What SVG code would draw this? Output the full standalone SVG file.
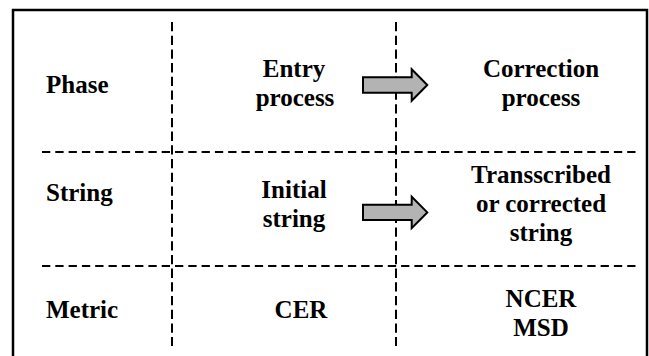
<svg xmlns="http://www.w3.org/2000/svg" width="649" height="356" viewBox="0 0 649 356">
<style>
.frame{fill:none;stroke:#000;stroke-width:2.5}
.vd{stroke:#000;stroke-width:2;stroke-dasharray:9.3 4.4;fill:none}
.hd{stroke:#000;stroke-width:2;stroke-dasharray:8.3 5;fill:none}
.arr{fill:#b3b3b3;stroke:#000;stroke-width:2;stroke-linejoin:miter}
text{font-family:"Liberation Serif","Times New Roman",serif;font-weight:bold;font-size:25px;fill:#000}
.c{text-anchor:middle}
</style>
<rect width="649" height="356" fill="#fff"/>
<path class="frame" d="M13,356 V10 H647 V356"/>
<g id="grid">
<line class="vd" x1="172" y1="22" x2="172" y2="346"/>
<line class="vd" x1="396" y1="22" x2="396" y2="346"/>
<line class="hd" x1="42" y1="152" x2="638" y2="152"/>
<line class="hd" x1="42" y1="266" x2="638" y2="266"/>
</g>
<g id="connectors">
<path class="arr" d="M363,77.3 H411.7 V69.3 L427.3,85 L411.7,100.7 V92.7 H363 Z"/>
<path class="arr" d="M363,204.7 H411.7 V196.7 L427.3,212.4 L411.7,228.1 V220.1 H363 Z"/>
</g>
<g id="row-phase">
<text x="46" y="93">Phase</text>
<text class="c" x="294" y="77">Entry</text>
<text class="c" x="295" y="106">process</text>
<text class="c" x="541" y="77">Correction</text>
<text class="c" x="541" y="106">process</text>
</g>
<g id="row-string">
<text x="46" y="201">String</text>
<text class="c" x="294" y="198">Initial</text>
<text class="c" x="294" y="227">string</text>
<text class="c" x="541" y="183">Transscribed</text>
<text class="c" x="541" y="212">or corrected</text>
<text class="c" x="541" y="241">string</text>
</g>
<g id="row-metric">
<text x="46" y="318">Metric</text>
<text class="c" x="301" y="318">CER</text>
<text class="c" x="541" y="307">NCER</text>
<text class="c" x="541" y="336">MSD</text>
</g>
</svg>
